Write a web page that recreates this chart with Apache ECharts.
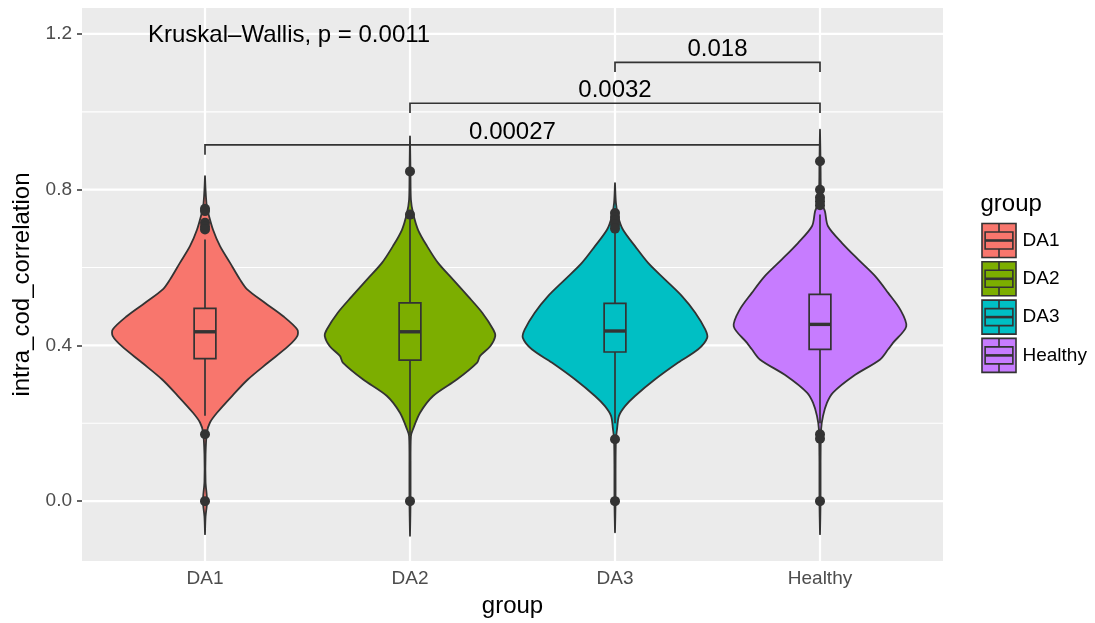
<!DOCTYPE html>
<html><head><meta charset="utf-8">
<script src="https://cdn.jsdelivr.net/npm/echarts@6/dist/echarts.min.js"></script>
<style>html,body{margin:0;padding:0;background:#fff}#chart{width:1095px;height:623px}</style>
</head><body><div id="chart"></div>
<script>
// ---------- data ----------
const categories = ['DA1', 'DA2', 'DA3', 'Healthy'];
const yTickValues = [0, 0.4, 0.8, 1.2];
const yMinorValues = [0.2, 0.6, 1.0];

// violin density profiles: [value, relative density (1 = widest violin)]
const violinDA1 = [[0.835,0],[0.80,0.006],[0.76,0.018],[0.74,0.035],[0.697,0.087],[0.655,0.163],[0.612,0.272],[0.569,0.38],[0.544,0.457],[0.509,0.652],[0.475,0.848],[0.441,1.0],[0.424,1.0],[0.398,0.902],[0.356,0.685],[0.313,0.467],[0.27,0.293],[0.227,0.13],[0.202,0.054],[0.176,0.02],[0.12,0.006],[0.05,0.006],[0.0,0.022],[-0.04,0.006],[-0.085,0]];
const violinDA2 = [[0.937,0],[0.85,0.005],[0.774,0.01],[0.74,0.033],[0.697,0.087],[0.655,0.185],[0.612,0.304],[0.569,0.467],[0.526,0.63],[0.484,0.783],[0.441,0.902],[0.424,0.924],[0.398,0.87],[0.373,0.76],[0.356,0.728],[0.313,0.511],[0.27,0.25],[0.227,0.109],[0.185,0.033],[0.167,0.01],[0.08,0.006],[0.0,0.006],[-0.089,0]];
const violinDA3 = [[0.817,0],[0.766,0.01],[0.732,0.033],[0.697,0.087],[0.655,0.217],[0.612,0.359],[0.569,0.543],[0.526,0.728],[0.484,0.87],[0.441,0.978],[0.42,1.0],[0.39,0.902],[0.356,0.685],[0.313,0.435],[0.27,0.217],[0.244,0.109],[0.219,0.043],[0.185,0.022],[0.159,0.01],[0.08,0.006],[0.0,0.006],[-0.08,0]];
const violinHealthy = [[0.954,0],[0.87,0.006],[0.80,0.01],[0.76,0.03],[0.744,0.054],[0.706,0.087],[0.663,0.239],[0.621,0.413],[0.578,0.598],[0.535,0.739],[0.492,0.87],[0.449,0.935],[0.407,0.793],[0.39,0.739],[0.364,0.652],[0.321,0.359],[0.279,0.141],[0.253,0.076],[0.219,0.033],[0.185,0.012],[0.1,0.006],[0.0,0.006],[-0.085,0]];

// boxplot stats: [lower whisker, Q1, median, Q3, upper whisker]
const boxDA1 = [0.219, 0.366, 0.435, 0.495, 0.672];
const boxDA2 = [0.17, 0.362, 0.435, 0.509, 0.73];
const boxDA3 = [0.20, 0.383, 0.437, 0.508, 0.69];
const boxHealthy = [0.20, 0.390, 0.454, 0.531, 0.736];

// outliers
const outliersDA1 = [0.751, 0.745, 0.715, 0.705, 0.698, 0.172, 0.0];
const outliersDA2 = [0.847, 0.736, 0.0];
const outliersDA3 = [0.74, 0.73, 0.72, 0.71, 0.70, 0.159, 0.0];
const outliersHealthy = [0.873, 0.80, 0.78, 0.77, 0.76, 0.172, 0.16, 0.0];

// pairwise comparisons: [group A, group B, bracket height, p label]
const comparisons = [
  ['DA1', 'Healthy', 0.915, '0.00027'],
  ['DA2', 'Healthy', 1.022, '0.0032'],
  ['DA3', 'Healthy', 1.127, '0.018']
];
const kruskalLabel = 'Kruskal\u2013Wallis, p = 0.0011';
const kruskalAnchor = [0.722, 1.2];

// ---------- build ----------
const violins = [violinDA1, violinDA2, violinDA3, violinHealthy];
const boxes = [boxDA1, boxDA2, boxDA3, boxHealthy];
const outliers = [outliersDA1, outliersDA2, outliersDA3, outliersHealthy];
const palette = ['#F8766D', '#7CAE00', '#00BFC4', '#C77CFF'];
const FONT = '"Liberation Sans", Arial, Helvetica, sans-serif';
const DARK = '#333333';
const Y_MIN = -0.1538, Y_MAX = 1.2667, X_MIN = 0.4, X_MAX = 4.6;
const HALF_MAX = 0.45, BOX_HALF = 0.053, TICK_DROP = 0.025;

const chart = echarts.init(document.getElementById('chart'), null, {renderer: 'canvas'});

const series = [];

// grid lines
const gridData = [];
yMinorValues.forEach(v => gridData.push(['h', v, 1.1]));
yTickValues.forEach(v => gridData.push(['h', v, 2.2]));
categories.forEach((c, i) => gridData.push(['v', i + 1, 2.2]));
series.push({
  type: 'custom', silent: true, z: 1,
  data: gridData.map((d, i) => [i]),
  renderItem: function (params, api) {
    const d = gridData[params.dataIndex];
    let a, b;
    if (d[0] === 'h') { a = api.coord([X_MIN, d[1]]); b = api.coord([X_MAX, d[1]]); }
    else { a = api.coord([d[1], Y_MIN]); b = api.coord([d[1], Y_MAX]); }
    return {type: 'line', shape: {x1: a[0], y1: a[1], x2: b[0], y2: b[1]}, style: {stroke: '#FFFFFF', lineWidth: d[2]}};
  }
});

// violins
series.push({
  type: 'custom', silent: true, z: 2,
  data: categories.map((c, i) => [i + 1]),
  renderItem: function (params, api) {
    const i = params.dataIndex;
    const x = i + 1;
    const prof = violins[i];
    const pts = [];
    prof.forEach(p => pts.push(api.coord([x + p[1] * HALF_MAX, p[0]])));
    for (let k = prof.length - 1; k >= 0; k--) pts.push(api.coord([x - prof[k][1] * HALF_MAX, prof[k][0]]));
    return {type: 'polygon', shape: {points: pts, smooth: 0.3}, style: {fill: palette[i], stroke: DARK, lineWidth: 1.8, lineJoin: 'round'}};
  }
});

// boxplots
series.push({
  type: 'custom', silent: true, z: 3,
  data: categories.map((c, i) => [i + 1]),
  renderItem: function (params, api) {
    const i = params.dataIndex;
    const x = i + 1;
    const s = boxes[i];
    const lo = api.coord([x, s[0]]), q1 = api.coord([x, s[1]]), md = api.coord([x, s[2]]), q3 = api.coord([x, s[3]]), hi = api.coord([x, s[4]]);
    const xl = api.coord([x - BOX_HALF, s[2]])[0], xr = api.coord([x + BOX_HALF, s[2]])[0];
    return {type: 'group', children: [
      {type: 'line', shape: {x1: lo[0], y1: lo[1], x2: q1[0], y2: q1[1]}, style: {stroke: DARK, lineWidth: 1.7}},
      {type: 'line', shape: {x1: q3[0], y1: q3[1], x2: hi[0], y2: hi[1]}, style: {stroke: DARK, lineWidth: 1.7}},
      {type: 'rect', shape: {x: xl, y: q3[1], width: xr - xl, height: q1[1] - q3[1]}, style: {fill: palette[i], stroke: DARK, lineWidth: 1.7}},
      {type: 'line', shape: {x1: xl, y1: md[1], x2: xr, y2: md[1]}, style: {stroke: DARK, lineWidth: 3.4}}
    ]};
  }
});

// outliers
outliers.forEach((arr, i) => {
  series.push({
    type: 'scatter', silent: true, z: 4, symbol: 'circle', symbolSize: 10,
    itemStyle: {color: DARK, opacity: 1},
    data: arr.map(v => [i + 1, v])
  });
});

// brackets + p-values
series.push({
  type: 'custom', silent: true, z: 5,
  data: comparisons.map((c, i) => [i]),
  renderItem: function (params, api) {
    const c = comparisons[params.dataIndex];
    const x1 = categories.indexOf(c[0]) + 1, x2 = categories.indexOf(c[1]) + 1;
    const a = api.coord([x1, c[2] - TICK_DROP]), b = api.coord([x1, c[2]]), d = api.coord([x2, c[2]]), e = api.coord([x2, c[2] - TICK_DROP]);
    const m = api.coord([(x1 + x2) / 2, c[2]]);
    return {type: 'group', children: [
      {type: 'polyline', shape: {points: [a, b, d, e]}, style: {stroke: DARK, lineWidth: 1.7, fill: null}},
      {type: 'text', style: {text: c[3], x: m[0], y: m[1] - 1, align: 'center', verticalAlign: 'bottom', fontSize: 24, fontFamily: FONT, fill: '#000'}}
    ]};
  }
});

// Kruskal-Wallis label
series.push({
  type: 'custom', silent: true, z: 5,
  data: [[0]],
  renderItem: function (params, api) {
    const p = api.coord(kruskalAnchor);
    return {type: 'text', style: {text: kruskalLabel, x: p[0], y: p[1] + 1, align: 'left', verticalAlign: 'middle', fontSize: 24, fontFamily: FONT, fill: '#000'}};
  }
});

// legend (drawn as graphic)
const legendChildren = [{type: 'text', left: 0, top: 0, style: {text: 'group', fontSize: 24, fontFamily: FONT, fill: '#000'}}];
const KEY = 37, KEY_TOP = 30, PITCH = 38.3;
categories.forEach((c, i) => {
  const y0 = KEY_TOP + i * PITCH;
  legendChildren.push(
    {type: 'rect', shape: {x: 0, y: y0, width: KEY, height: KEY}, style: {fill: '#F2F2F2', stroke: '#FFFFFF', lineWidth: 1}},
    {type: 'rect', shape: {x: 1.5, y: y0 + 1.5, width: KEY - 3, height: KEY - 3}, style: {fill: palette[i], stroke: DARK, lineWidth: 1.6}},
    {type: 'line', shape: {x1: KEY / 2, y1: y0 + 1.5, x2: KEY / 2, y2: y0 + KEY * 0.27}, style: {stroke: DARK, lineWidth: 1.6}},
    {type: 'line', shape: {x1: KEY / 2, y1: y0 + KEY * 0.73, x2: KEY / 2, y2: y0 + KEY - 1.5}, style: {stroke: DARK, lineWidth: 1.6}},
    {type: 'rect', shape: {x: KEY * 0.125, y: y0 + KEY * 0.27, width: KEY * 0.75, height: KEY * 0.46}, style: {fill: palette[i], stroke: DARK, lineWidth: 1.6}},
    {type: 'line', shape: {x1: KEY * 0.125, y1: y0 + KEY / 2, x2: KEY * 0.875, y2: y0 + KEY / 2}, style: {stroke: DARK, lineWidth: 2.6}},
    {type: 'text', x: KEY + 5, y: y0 + KEY / 2, style: {text: c, fontSize: 19, fontFamily: FONT, fill: '#000', verticalAlign: 'middle'}}
  );
});

const option = {
  animation: false,
  backgroundColor: '#FFFFFF',
  textStyle: {fontFamily: FONT},
  grid: {left: 82, right: 152, top: 8, bottom: 61, show: true, backgroundColor: '#EBEBEB', borderWidth: 0},
  xAxis: {
    type: 'value', min: X_MIN, max: X_MAX,
    axisLine: {show: false},
    axisTick: {show: true, customValues: [1, 2, 3, 4], length: 5, lineStyle: {color: DARK, width: 1.5}},
    axisLabel: {customValues: [1, 2, 3, 4], formatter: v => categories[Math.round(v) - 1] || '', color: '#4D4D4D', fontSize: 19, margin: 8, fontFamily: FONT},
    splitLine: {show: false},
    name: 'group', nameLocation: 'middle', nameGap: 33,
    nameTextStyle: {fontSize: 24, color: '#000', fontFamily: FONT}
  },
  yAxis: {
    type: 'value', min: Y_MIN, max: Y_MAX,
    axisLine: {show: false},
    axisTick: {show: true, customValues: yTickValues, length: 5, lineStyle: {color: DARK, width: 1.5}},
    axisLabel: {customValues: yTickValues, formatter: v => v.toFixed(1), color: '#4D4D4D', fontSize: 19, margin: 10, fontFamily: FONT},
    splitLine: {show: false},
    name: 'intra_cod_correlation', nameLocation: 'middle', nameGap: 44,
    nameTextStyle: {fontSize: 24, color: '#000', fontFamily: FONT}
  },
  graphic: [{type: 'group', left: 980, top: 192, children: legendChildren}],
  series: series
};
chart.setOption(option);
</script></body></html>
